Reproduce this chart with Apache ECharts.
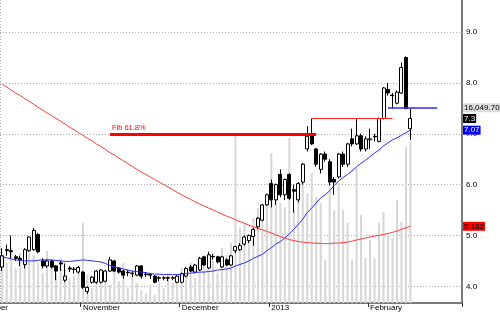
<!DOCTYPE html>
<html>
<head>
<meta charset="utf-8">
<script src="https://cdn.jsdelivr.net/npm/echarts@6/dist/echarts.min.js"></script>
<style>
html, body { margin: 0; padding: 0; background: #fff; }
#chart { width: 500px; height: 312px; }
</style>
</head>
<body>
<div id="chart"></div>
<script>
// trading days on the x axis (weekdays minus holidays); the last ones are still empty
var firstDay = '2012-10-08';
var dayCount = 103;
var holidays = ['2012-12-25', '2013-01-01'];
var monthNames = ['January', 'February', 'March', 'April', 'May', 'June', 'July',
  'August', 'September', 'October', 'November', 'December'];

// [open, close, low, high]
var candles = [
  [4.38, 4.60, 4.30, 4.75], [4.72, 4.70, 4.60, 4.82], [4.70, 4.68, 4.55, 5.00], [4.58, 4.55, 4.50, 4.62],
  [4.55, 4.52, 4.40, 4.60], [4.43, 4.72, 4.35, 4.75], [4.70, 4.97, 4.68, 4.98], [4.72, 5.10, 4.70, 5.15],
  [5.02, 4.68, 4.65, 5.05], [4.50, 4.40, 4.35, 4.55], [4.40, 4.50, 4.36, 4.53], [4.50, 4.38, 4.35, 4.52],
  [4.40, 4.30, 4.12, 4.42], [4.46, 4.44, 4.30, 4.50], [4.12, 4.20, 4.08, 4.45], [4.36, 4.34, 4.28, 4.40],
  [4.33, 4.34, 4.25, 4.38], [4.28, 4.37, 4.25, 4.40],
  // November
  [4.28, 3.98, 3.95, 4.30], [3.90, 3.98, 3.85, 4.00], [4.08, 4.18, 4.05, 4.20], [4.08, 4.30, 4.05, 4.32],
  [4.08, 4.32, 4.06, 4.34], [4.10, 4.30, 4.08, 4.32], [4.30, 4.52, 4.28, 4.58], [4.50, 4.30, 4.28, 4.52],
  [4.36, 4.28, 4.25, 4.38], [4.30, 4.22, 4.15, 4.32], [4.28, 4.27, 4.20, 4.32], [4.26, 4.25, 4.18, 4.30],
  [4.22, 4.40, 4.20, 4.42], [4.40, 4.20, 4.15, 4.42], [4.24, 4.23, 4.18, 4.28], [4.23, 4.22, 4.15, 4.26],
  [4.20, 4.08, 4.06, 4.22], [4.17, 4.16, 4.10, 4.20], [4.16, 4.17, 4.12, 4.20], [4.17, 4.16, 4.10, 4.19],
  [4.16, 4.17, 4.12, 4.20], [4.08, 4.20, 4.06, 4.22],
  // December
  [4.08, 4.25, 4.06, 4.27], [4.20, 4.35, 4.18, 4.38], [4.38, 4.30, 4.28, 4.42], [4.28, 4.42, 4.25, 4.44],
  [4.32, 4.55, 4.30, 4.58], [4.58, 4.42, 4.40, 4.60], [4.36, 4.62, 4.34, 4.68], [4.59, 4.58, 4.52, 4.64],
  [4.58, 4.48, 4.45, 4.60], [4.38, 4.58, 4.36, 4.60], [4.52, 4.42, 4.40, 4.55], [4.42, 4.60, 4.40, 4.62],
  [4.70, 4.78, 4.65, 4.80], [4.72, 4.80, 4.70, 4.85], [4.83, 4.97, 4.80, 5.00], [4.90, 5.00, 4.85, 5.02],
  [4.98, 5.12, 4.80, 5.15], [5.17, 5.34, 5.12, 5.36], [5.30, 5.60, 5.28, 5.62], [5.60, 5.80, 5.58, 5.82],
  // January
  [6.02, 5.70, 5.55, 6.10], [5.70, 6.00, 5.60, 6.02], [6.20, 5.80, 5.75, 6.30], [5.80, 6.10, 5.70, 6.12],
  [6.20, 5.73, 5.70, 6.22], [5.90, 5.87, 5.45, 6.00], [5.70, 6.02, 5.65, 6.05], [6.05, 6.40, 6.00, 6.42],
  [6.70, 6.95, 6.65, 7.15], [7.00, 6.80, 6.78, 7.30], [6.70, 6.40, 6.35, 6.72], [6.30, 6.60, 6.22, 6.62],
  [6.60, 6.50, 6.45, 6.65], [6.45, 6.05, 5.98, 6.50], [6.10, 6.05, 5.80, 6.15], [6.15, 6.60, 6.12, 6.62],
  [6.60, 6.40, 6.35, 6.65], [6.40, 6.80, 6.35, 6.82], [6.90, 6.80, 6.75, 7.10], [6.80, 6.96, 6.78, 7.30],
  [6.96, 6.70, 6.65, 7.00], [6.70, 6.90, 6.65, 6.95],
  // February
  [6.88, 6.90, 6.70, 7.10], [6.95, 6.94, 6.85, 7.00], [6.85, 7.30, 6.83, 7.32], [7.30, 7.90, 7.28, 7.92],
  [7.87, 7.80, 7.75, 8.00], [7.76, 7.75, 7.50, 7.80], [7.60, 7.82, 7.58, 7.85], [7.80, 8.30, 7.78, 8.40],
  [8.50, 7.50, 7.48, 8.52], [7.10, 7.30, 6.88, 7.50]
];

var volumes = [
  4450, 3960, 5450, 3470, 4950, 4160, 5740, 4750, 3960, 2970, 5150, 3760, 2970, 4450, 3270, 2480, 2770, 3470,
  7920, 2770, 1490, 2480, 1980, 2970, 1780, 3470, 2180, 3960, 1490, 2480, 1980, 1190, 990, 1780, 790, 2180,
  1490, 2970, 1980, 2480,
  3470, 2970, 3960, 2480, 4450, 3760, 4950, 4160, 2970, 5450, 4750, 5940, 16830, 7430, 7920, 6730, 8420,
  9410, 8910, 10890,
  14850, 11680, 9900, 9500, 16340, 9210, 11480, 13860, 10890, 12870, 10490, 9900, 4260, 11480, 9210, 11880,
  9210, 7920, 4260, 13370, 8710, 4460,
  6240, 4460, 7920, 9010, 6930, 6440, 10200, 8020, 15440, 16049.7
];

// short moving average (blue)
var maShort = [
  4.58, 4.56, 4.54, 4.52, 4.51, 4.50, 4.50, 4.50, 4.51, 4.52, 4.52, 4.52, 4.51, 4.50, 4.49, 4.49, 4.50, 4.51,
  4.52, 4.51, 4.50, 4.49, 4.48, 4.45, 4.41, 4.38, 4.36, 4.34, 4.32, 4.30, 4.29, 4.28, 4.27, 4.25, 4.24, 4.24,
  4.23, 4.23, 4.23, 4.23,
  4.24, 4.25, 4.26, 4.27, 4.28, 4.28, 4.29, 4.30, 4.32, 4.33, 4.34, 4.36, 4.40, 4.43, 4.46, 4.50, 4.55, 4.59,
  4.63, 4.70,
  4.76, 4.83, 4.88, 4.95, 5.03, 5.12, 5.22, 5.32, 5.45, 5.54, 5.64, 5.74, 5.80, 5.88, 5.98, 6.07, 6.14, 6.20,
  6.27, 6.35, 6.42, 6.48,
  6.55, 6.62, 6.68, 6.76, 6.82, 6.88, 6.92, 6.97, 7.02, 7.07
];

// long moving average (red)
var maLong = [
  7.97, 7.92, 7.86, 7.80, 7.75, 7.69, 7.64, 7.58, 7.52, 7.47, 7.41, 7.36, 7.30, 7.25, 7.19, 7.13, 7.08, 7.02,
  6.97, 6.91, 6.86, 6.80, 6.75, 6.69, 6.63, 6.58, 6.52, 6.47, 6.41, 6.36, 6.30, 6.25, 6.20, 6.15, 6.10, 6.05,
  6.00, 5.95, 5.90, 5.85,
  5.80, 5.75, 5.71, 5.66, 5.62, 5.58, 5.54, 5.50, 5.46, 5.42, 5.38, 5.35, 5.31, 5.27, 5.24, 5.20, 5.17, 5.14,
  5.11, 5.08,
  5.05, 5.01, 4.98, 4.95, 4.92, 4.90, 4.88, 4.87, 4.86, 4.85, 4.85, 4.84, 4.84, 4.84, 4.85, 4.85, 4.86, 4.87,
  4.89, 4.91, 4.93, 4.95,
  4.97, 4.99, 5.00, 5.02, 5.04, 5.06, 5.09, 5.12, 5.15, 5.182
];

var yTicks = [4, 5, 6, 7, 8, 9];
var fibLevel = 7.0;      // Fib 61.8% line
var fibFrom = 24, fibTo = 70;
var resistLevel = 7.3;   // thin red line
var resistFrom = 69, resistTo = 87;
var blueLevel = 7.51;    // blue horizontal line
var blueFrom = 86, blueTo = 97;

var dates = [];
var d = new Date(firstDay + 'T00:00:00Z');
while (dates.length < dayCount) {
  var s = d.toISOString().slice(0, 10);
  var wd = d.getUTCDay();
  if (wd !== 0 && wd !== 6 && holidays.indexOf(s) < 0) dates.push(s);
  d.setUTCDate(d.getUTCDate() + 1);
}
function isMonthStart(i) {
  return i > 0 && i < candles.length && dates[i].slice(5, 7) !== dates[i - 1].slice(5, 7);
}
function monthLabel(v) {
  var m = +v.slice(5, 7);
  return m === 1 ? v.slice(0, 4) : monthNames[m - 1];
}

var font = 'Liberation Sans';
var lastClose = candles[candles.length - 1][1];
var lastVol = volumes[volumes.length - 1];

function tag(level, text, bg, fg) {
  return {
    yAxis: level,
    lineStyle: { color: 'rgba(0,0,0,0)', width: 0 },
    label: {
      show: true, position: 'end', distance: 1, formatter: text,
      backgroundColor: bg, color: fg, fontSize: 8, fontFamily: font,
      padding: [1, 1, 0, 1]
    }
  };
}

var chart = echarts.init(document.getElementById('chart'));
chart.setOption({
  animation: false,
  backgroundColor: '#fff',
  grid: { left: 0, right: 38, top: 0, bottom: 9, outerBoundsMode: 'none' },
  xAxis: {
    type: 'category',
    data: dates,
    boundaryGap: true,
    axisLine: { lineStyle: { color: '#7a7a7a', width: 2 } },
    axisTick: {
      show: true, interval: function (i) { return isMonthStart(i); },
      length: 4, lineStyle: { color: '#333' }
    },
    axisLabel: {
      interval: function (i) { return isMonthStart(i); },
      formatter: function (v) { return monthLabel(v); },
      align: 'left', fontSize: 8, color: '#000', margin: 1, fontFamily: font
    },
    splitLine: {
      show: true,
      interval: function (i) { return dates[i] === '2013-01-02'; },
      lineStyle: { color: '#aaa', type: [1, 2] }
    }
  },
  yAxis: [
    {
      type: 'value', position: 'right', min: 3.672, max: 9.63,
      axisLine: { show: true, lineStyle: { color: '#7a7a7a', width: 2 } },
      axisTick: { show: false, customValues: yTicks },
      axisLabel: {
        customValues: yTicks,
        formatter: function (v) { return v.toFixed(1); },
        fontSize: 8, color: '#000', margin: 4, fontFamily: font
      },
      splitLine: { show: true, lineStyle: { color: '#aaa', type: [1, 2] } }
    },
    { type: 'value', min: 0, max: 30000, show: false }
  ],
  graphic: [{
    type: 'text', x: 8, y: 308,
    style: { text: 'October', align: 'right', verticalAlign: 'middle', fontSize: 8, fontFamily: font, fill: '#000' }
  }],
  series: [
    {
      type: 'bar', name: 'Volume', yAxisIndex: 1, data: volumes,
      barWidth: 2, itemStyle: { color: '#d6d6d6' }, z: 1, silent: true
    },
    {
      type: 'candlestick', name: 'Price', data: candles, barWidth: 3.5, z: 3, clip: false,
      itemStyle: { color: '#fff', color0: '#000', borderColor: '#000', borderColor0: '#000', borderWidth: 1 },
      markLine: {
        silent: true, symbol: ['none', 'none'], z: 6,
        data: [
          [
            { coord: [fibFrom, fibLevel], lineStyle: { color: '#ff0000', width: 3, type: 'solid' },
              label: { show: true, position: 'insideStartTop', formatter: 'Fib 61.8%', color: '#ff0000',
                fontSize: 7.5, fontFamily: font, distance: 2 } },
            { coord: [fibTo, fibLevel] }
          ],
          [
            { coord: [resistFrom, resistLevel], lineStyle: { color: '#ff2020', width: 1, type: 'solid' },
              label: { show: false } },
            { coord: [resistTo, resistLevel] }
          ],
          [
            { coord: [blueFrom, blueLevel], lineStyle: { color: '#2a2aff', width: 1.5, type: 'solid' },
              label: { show: false } },
            { coord: [blueTo, blueLevel] }
          ],
          tag(blueLevel, lastVol.toLocaleString('en-US', { minimumFractionDigits: 2 }), '#dcdcdc', '#000'),
          tag(lastClose, String(lastClose), '#000', '#fff'),
          tag(maShort[maShort.length - 1], String(maShort[maShort.length - 1]), '#0000ff', '#fff'),
          tag(maLong[maLong.length - 1], String(maLong[maLong.length - 1]), '#ff0000', '#000')
        ]
      }
    },
    {
      type: 'line', name: 'MA short', data: maShort, showSymbol: false, z: 4,
      lineStyle: { color: '#2a2aff', width: 1 }
    },
    {
      type: 'line', name: 'MA long', data: maLong, showSymbol: false, z: 4,
      lineStyle: { color: '#ff3c3c', width: 1 }
    }
  ]
});
</script>
</body>
</html>
